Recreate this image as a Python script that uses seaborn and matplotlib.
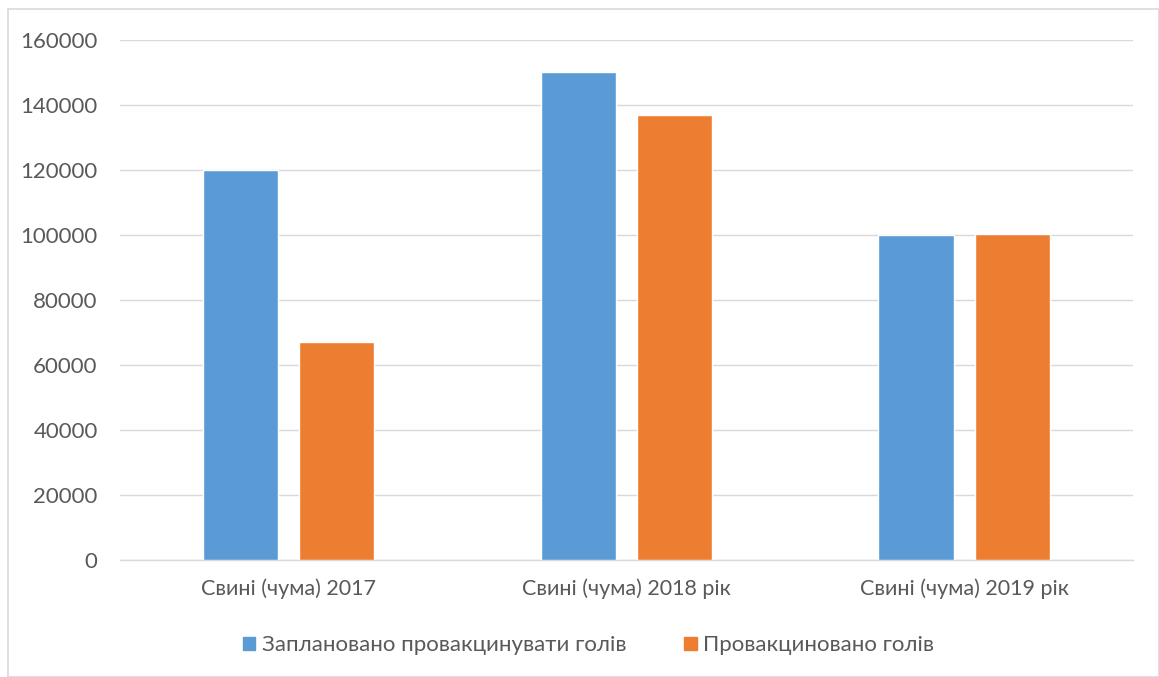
import matplotlib
matplotlib.use("Agg")
import matplotlib.pyplot as plt
import seaborn as sns
import pandas as pd
from matplotlib.patches import Rectangle

categories = ["Свині (чума) 2017", "Свині (чума) 2018 рік", "Свині (чума) 2019 рік"]
series_names = ["Заплановано провакцинувати голів", "Провакциновано голів"]
planned = [120000, 150000, 100000]
vaccinated = [67000, 137000, 100400]
yticks = [0, 20000, 40000, 60000, 80000, 100000, 120000, 140000, 160000]

df = pd.DataFrame({
    "category": categories * 2,
    "series": [series_names[0]] * 3 + [series_names[1]] * 3,
    "value": planned + vaccinated,
})

sns.set_theme(style="white")
plt.rcParams["font.family"] = ["Lato", "DejaVu Sans"]

fig = plt.figure(figsize=(11.59, 6.77), dpi=100)
ax = fig.add_axes([0.1035, 0.173, 0.874, 0.768])

palette = {series_names[0]: "#5b9bd5", series_names[1]: "#ed7d31"}
sns.barplot(data=df, x="category", y="value", hue="series", palette=palette,
            width=0.57, gap=0.22, saturation=1, ax=ax, legend=False, zorder=3)

ax.set_ylim(0, 160000)
ax.set_yticks(yticks)
ax.set_yticklabels([str(v) for v in yticks])
ax.set_xlim(-0.5, 2.5)
ax.yaxis.grid(True, color="#d9d9d9", linewidth=1, zorder=0)
ax.set_axisbelow(True)
for side in ["top", "right", "left"]:
    ax.spines[side].set_visible(False)
ax.spines["bottom"].set_color("#d9d9d9")
ax.spines["bottom"].set_linewidth(1)
ax.tick_params(axis="both", length=0, colors="#595959")
ax.tick_params(axis="y", pad=16, labelsize=16)
ax.tick_params(axis="x", pad=13, labelsize=15.5)
ax.set_xlabel("")
ax.set_ylabel("")

# legend below the plot
handles = [Rectangle((0, 0), 1, 1, color=palette[s]) for s in series_names]
fig.legend(handles, series_names, loc="center", bbox_to_anchor=(0.508, 0.047),
           ncol=2, frameon=False, labelcolor="#595959",
           handlelength=0.55, handleheight=0.55, handletextpad=0.3, columnspacing=2.6,
           prop={"family": ["Lato", "DejaVu Sans"], "size": 16})

# chart area border
fig.patches.append(Rectangle((8 / 1159, 0), 1 - 8 / 1159, 1 - 9 / 677,
                             transform=fig.transFigure, fill=False,
                             edgecolor="#d9d9d9", linewidth=1.2))

fig.savefig("out.png", dpi=100)
